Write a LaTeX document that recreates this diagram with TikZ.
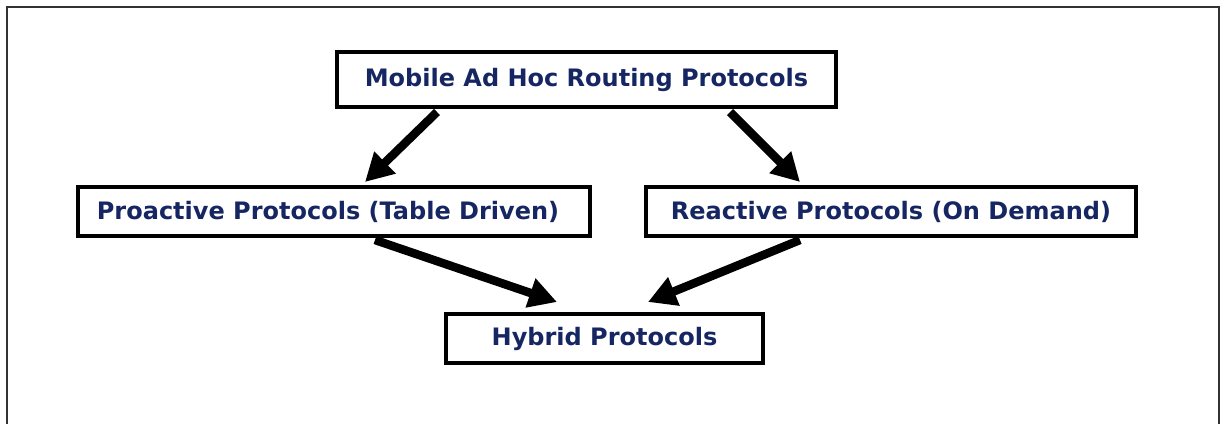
\documentclass[tikz,border=0pt]{standalone}
\usepackage{fontspec}
\setmainfont{DejaVu Sans}
\usetikzlibrary{arrows.meta}
\definecolor{navy}{RGB}{22,38,98}
\definecolor{framegray}{RGB}{50,50,50}
\begin{document}
\begin{tikzpicture}[x=1pt,y=-1pt,
  box/.style={draw=black, line width=4pt, fill=white, inner sep=0pt,
    font=\fontsize{24}{28}\selectfont\bfseries, text=navy},
  arr/.style={line width=8.5pt, draw=black,
    -{Triangle[length=28pt,width=29pt]}}]
\useasboundingbox (0,0) rectangle (1223,423);
\fill[white] (0,0) rectangle (1223,423);
\draw[framegray, line width=2pt] (7,430) -- (7,7) -- (1219,7) -- (1219,430);
\node[box, minimum width=499pt, minimum height=55pt] (top) at (586.5,79.5) {Mobile Ad Hoc Routing Protocols};
\node[box, minimum width=512pt, minimum height=49pt] (left) at (334,211.5) {\hspace*{-12pt}Proactive Protocols (Table Driven)};
\node[box, minimum width=490pt, minimum height=49pt] (right) at (891,211.5) {Reactive Protocols (On Demand)};
\node[box, minimum width=317pt, minimum height=49pt] (hyb) at (604.5,338.5) {Hybrid Protocols};
\draw[arr] ([xshift=-149.5pt,yshift=-3pt]top.south) -- ([xshift=31pt,yshift=3pt]left.north);
\draw[arr] ([xshift=143.5pt,yshift=-3pt]top.south) -- ([xshift=-91pt,yshift=3pt]right.north);
\draw[arr] ([xshift=41pt,yshift=-2pt]left.south) -- ([xshift=-47.5pt,yshift=10pt]hyb.north);
\draw[arr] ([xshift=-91pt,yshift=-2pt]right.south) -- ([xshift=43.5pt,yshift=10pt]hyb.north);
\end{tikzpicture}
\end{document}
